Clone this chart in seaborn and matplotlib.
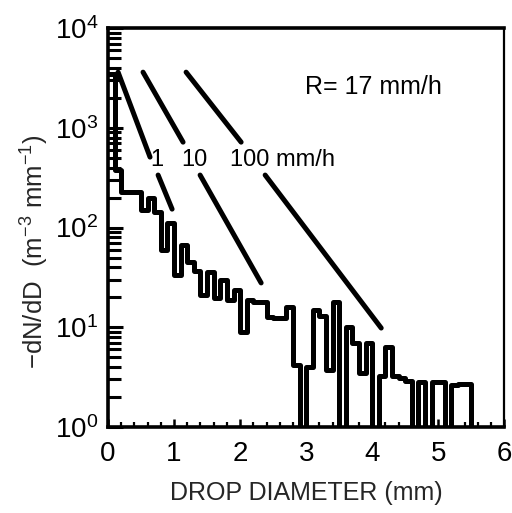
import numpy as np
import pandas as pd
import matplotlib
matplotlib.use("Agg")
import matplotlib.pyplot as plt
import seaborn as sns
from matplotlib.ticker import MultipleLocator, LogLocator, NullFormatter

# ---- data ----
bin_width = 0.1
bin_left = np.round(np.arange(0.0, 5.6, bin_width), 2)   # drop diameter bins (mm)
dnd_values = [3500, 380, 227, 227, 227, 150, 198, 143, 59, 111,
              33, 67, 45, 37, 21, 36, 19.6, 30, 18.8, 23.6,
              9, 18.8, 18, 18, 12.7, 12.4, 12.4, 16, 4.2, 0,
              4, 15, 13, 3.7, 18, 0, 10, 7, 3.5, 7,
              0, 3.2, 6.3, 3.2, 3.1, 2.9, 0, 2.8, 0, 2.8,
              2.8, 0, 2.6, 2.7, 2.7, 0]

# Marshall-Palmer reference lines (two segments each, gap for the label)
mp_rates = ["1", "10", "100"]
mp_seg_x = {"1": [[0.152, 0.636], [0.758, 0.970]],
            "10": [[0.530, 1.136], [1.394, 2.318]],
            "100": [[1.182, 2.015], [2.379, 4.136]]}
mp_seg_y = {"1": [[3622, 509], [336, 153]],
            "10": [[3622, 719], [336, 27.8]],
            "100": [[3622, 719], [336, 9.8]]}
mp_label_text = ["1", "10", "100 mm/h"]
mp_label_x = [0.742, 1.303, 1.848]
mp_label_y = 475
rain_text = "R= 17 mm/h"

x_ticks = [0, 1, 2, 3, 4, 5, 6]
y_ticks = [1, 10, 100, 1000, 10000]

# ---- style ----
sns.set_theme(style="ticks")
plt.rcParams["font.family"] = ["Liberation Sans", "DejaVu Sans"]
plt.rcParams["mathtext.fontset"] = "custom"
plt.rcParams["mathtext.rm"] = "Liberation Sans"
plt.rcParams["mathtext.it"] = "Liberation Sans:italic"
plt.rcParams["mathtext.bf"] = "Liberation Sans:bold"

fig = plt.figure(figsize=(5.12, 5.13), dpi=100)
ax = fig.add_axes([0.211, 0.168, 0.774, 0.777])

edges = [float(e) for e in np.append(bin_left, bin_left[-1] + bin_width)]
hist_df = pd.DataFrame({
    "diameter": bin_left + bin_width / 2,
    "dnd": np.where(np.array(dnd_values) > 0, dnd_values, 0.05),
})

sns.histplot(data=hist_df, x="diameter", weights="dnd", bins=edges,
             element="step", fill=False, color="black", linewidth=3.6, ax=ax)

for r in mp_rates:
    for xs, ys in zip(mp_seg_x[r], mp_seg_y[r]):
        sns.lineplot(x=xs, y=ys, color="black", linewidth=3.6, sort=False,
                     estimator=None, ax=ax, solid_capstyle="round")

ax.set_yscale("log")
ax.set_xlim(0, 6)
ax.set_ylim(1, 10000)

for t, xv in zip(mp_label_text, mp_label_x):
    ha = "left" if t.startswith("100") else "center"
    ax.text(xv, mp_label_y, t, ha=ha, va="center", fontsize=17, color="black")
ax.text(2.985, 2570, rain_text, ha="left", va="center", fontsize=18, color="black")

ax.set_xticks(x_ticks)
ax.set_xticklabels([str(v) for v in x_ticks])
ax.xaxis.set_minor_locator(MultipleLocator(0.2))
ax.set_yticks(y_ticks)
ax.set_yticklabels([f"$10^{{{int(np.log10(v))}}}$" for v in y_ticks])
ax.yaxis.set_minor_locator(LogLocator(base=10, subs=np.arange(2, 10)))
ax.yaxis.set_minor_formatter(NullFormatter())

ax.tick_params(axis="both", which="both", direction="in", colors="black",
               labelsize=20, top=False, right=False)
ax.tick_params(axis="y", which="major", length=11, width=2.2, pad=7)
ax.tick_params(axis="y", which="minor", length=9, width=2.2)
ax.tick_params(axis="x", which="major", length=6, width=1.8, pad=10)
ax.tick_params(axis="x", which="minor", length=3.5, width=1.6)

for s in ["left", "bottom", "top"]:
    ax.spines[s].set_linewidth(2.6)
    ax.spines[s].set_color("black")
ax.spines["right"].set_linewidth(1.6)
ax.spines["right"].set_color("black")
ax.spines["right"].set_visible(True)
ax.spines["top"].set_visible(True)

ax.set_xlabel("DROP DIAMETER (mm)", fontsize=18, labelpad=10)
ax.set_ylabel("\u2212dN/dD  (m$^{-3}$ mm$^{-1}$)", fontsize=18.5)
ax.yaxis.set_label_coords(-0.145, 0.44)

fig.savefig("out.png", dpi=100, facecolor="white")
